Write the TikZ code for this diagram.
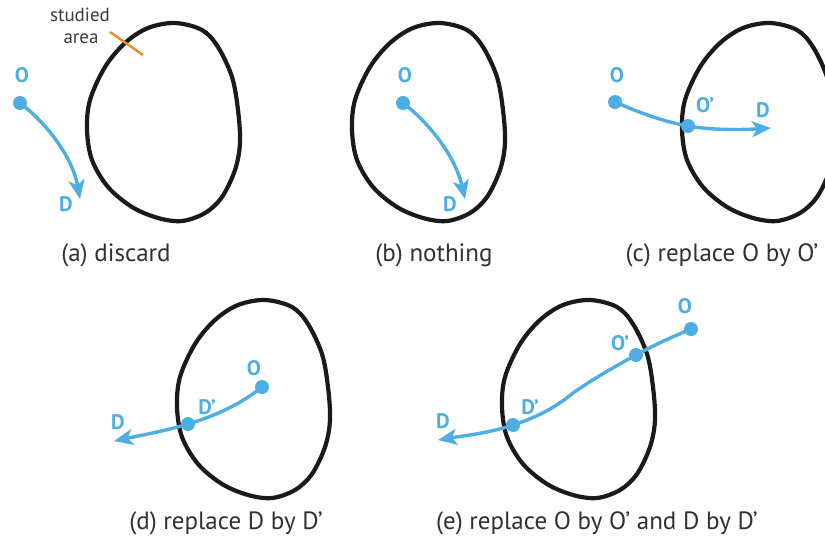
\documentclass[tikz,border=0pt]{standalone}
\usepackage{fontspec}
\setmainfont{PT Sans}
\usetikzlibrary{arrows.meta}
\definecolor{bl}{HTML}{4DAEE3}
\definecolor{org}{HTML}{F0892A}
\definecolor{ink}{HTML}{1A1A1A}
\tikzset{
  outline/.style={line width=4.2pt, draw=ink},
  route/.style={line width=3.4pt, draw=bl, line cap=round, -{Stealth[length=19pt,width=16pt,inset=5pt]}},
  dot/.style={circle, fill=bl, inner sep=0pt, minimum size=14pt},
  lab/.style={text=bl, inner sep=0pt, font=\bfseries\fontsize{21}{21}\selectfont},
  captxt/.style={text=ink!90, inner sep=0pt, font=\fontsize{25}{26}\selectfont},
  areatxt/.style={text=ink!85, inner sep=0pt, font=\fontsize{19}{19}\selectfont},
  blob/.pic={\draw[outline] plot[smooth cycle, tension=0.55] coordinates{
     (175,23) (202,30) (218,47) (232,77) (238,110) (240,143) (235,170) (222,197)
     (205,213) (182,221) (158,218) (132,207) (108,187) (92,160) (87,130) (90,100)
     (105,67) (125,43) (148,28)};}
}
\begin{document}
\begin{tikzpicture}[x=1pt,y=-1pt]
\useasboundingbox (0,0) rectangle (825,546);
\clip (0,0) rectangle (825,546);
\fill[white] (0,0) rectangle (825,546);
% blobs
\pic at (0,0) {blob};
\pic at (265,0) {blob};
\pic at (595,0) {blob};
\pic at (90,277) {blob};
\pic at (415,277) {blob};
% studied area
\node[areatxt, anchor=base] (st1) at (80,21) {studied};
\node[areatxt, anchor=base] (st2) at (81,43) {area};
\coordinate (or1) at (110,32);
\coordinate (or2) at (143,55);
\draw[org, line width=2.4pt] (or1) -- (or2);
% (a)
\node[dot] (oa) at (20,103) {};
\coordinate (ta) at (80,199);
\node[lab] (loa) at (22,75) {O};
\node[lab] (lda) at (66,204) {D};
\draw[route] (oa.center) .. controls (45,122) and (72,155) .. (ta);
% (b)
\node[dot] (ob) at (403,103) {};
\coordinate (tb) at (465,199);
\node[lab] (lob) at (405,75) {O};
\node[lab] (ldb) at (450,204) {D};
\draw[route] (ob.center) .. controls (428,122) and (455,155) .. (tb);
% (c)
\node[dot] (oc) at (615,102) {};
\node[dot] (opc) at (688,126) {};
\coordinate (tc) at (771,128);
\node[lab] (loc) at (617,75) {O};
\node[lab] (lopc) at (705,105) {O’};
\node[lab] (ldc) at (763,110) {D};
\draw[route] (oc.center) .. controls (640,113) and (665,122) .. (opc.center)
   .. controls (710,130) and (740,130) .. (tc);
% (d)
\node[dot] (od) at (262,387) {};
\node[dot] (dpd) at (188,424) {};
\coordinate (td) at (114,441);
\node[lab] (lod) at (254,368) {O};
\node[lab] (ldpd) at (207,407) {D’};
\node[lab] (ldd) at (118,422) {D};
\draw[route] (od.center) .. controls (240,405) and (212,417) .. (dpd.center)
   .. controls (165,431) and (138,436) .. (td);
% (e)
\node[dot] (oe) at (691,329) {};
\node[dot] (ope) at (636,355) {};
\node[dot] (dpe) at (513,425) {};
\coordinate (te) at (438,440);
\node[lab] (loe) at (685,306) {O};
\node[lab] (lope) at (620,343) {O’};
\node[lab] (ldpe) at (530,407) {D’};
\node[lab] (lde) at (443,421) {D};
\draw[route] (oe.center) .. controls (670,338) and (652,346) .. (ope.center)
   .. controls (605,372) and (592,380) .. (573,393)
   .. controls (555,408) and (535,418) .. (dpe.center)
   .. controls (490,433) and (462,436) .. (te);
% captions
\node[captxt] (ca) at (116,255) {(a) discard};
\node[captxt] (cb) at (434,255) {(b) nothing};
\node[captxt] (cc) at (722,255) {(c) replace O by O’};
\node[captxt] (cd) at (226,523) {(d) replace D by D’};
\node[captxt] (ce) at (597,523) {(e) replace O by O’ and D by D’};
\end{tikzpicture}
\end{document}
